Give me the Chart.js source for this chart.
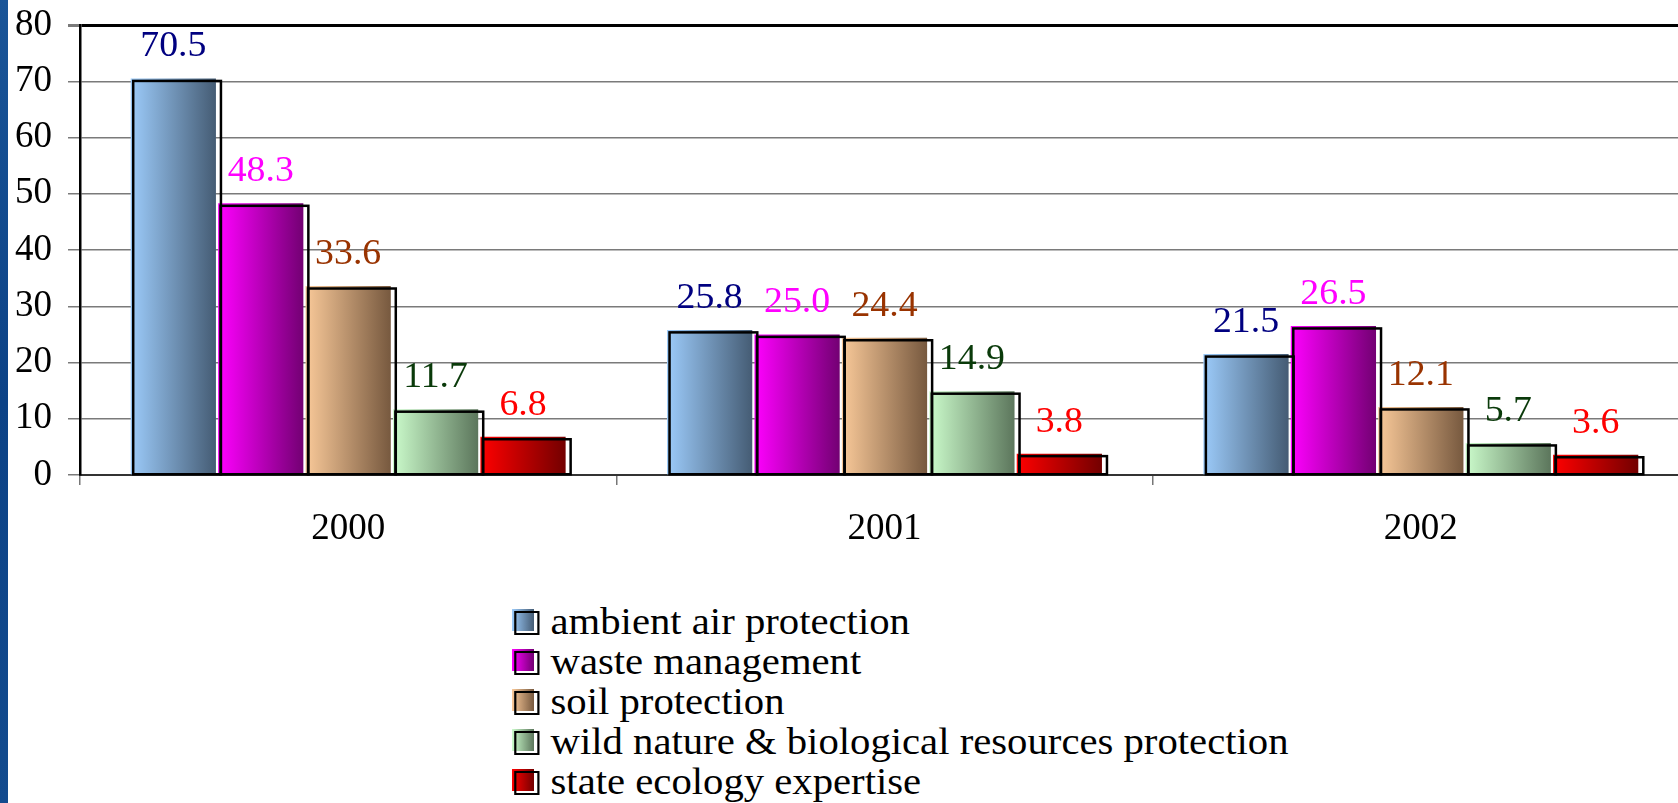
<!DOCTYPE html>
<html lang="en">
<head>
  <meta charset="UTF-8" />
  <title>Environmental protection expenditure</title>
  <script src="https://cdn.jsdelivr.net/npm/chart.js"></script>
  <style>
    body {
      margin: 0;
      padding: 0;
      background: #fff;
      overflow: hidden;
      width: 1678px;
      height: 803px;
      position: relative;
      font-family: "Liberation Serif", "Times New Roman", serif;
    }
    .strip {
      position: absolute;
      left: 0;
      top: 0;
      width: 8px;
      height: 803px;
      background: linear-gradient(#1a5598, #0c4286 50%, #134b8e);
    }
    #chart {
      position: absolute;
      left: 0;
      top: 0;
    }
    .legend {
      position: absolute;
      left: 512px;
      top: 602px;
      font-size: 37px;
      line-height: 40px;
      color: #000;
      transform: scaleX(1.1);
      transform-origin: left top;
    }
    .legend div {
      position: relative;
      padding-left: 35px;
      white-space: nowrap;
    }
    .legend .box {
      position: absolute;
      left: 0;
      top: 7px;
      width: 20px;
      height: 22px;
    }
    .legend .box::after {
      content: "";
      position: absolute;
      left: 2px;
      top: 2px;
      width: 19px;
      height: 20px;
      border: 2.5px solid #000;
    }
  </style>
</head>
<body>
  <div class="strip"></div>
  <canvas id="chart" width="1700" height="560"></canvas>
  <div class="legend" id="legend"></div>

  <script>
    const years = ["2000", "2001", "2002"];
    const seriesNames = [
      "ambient air protection",
      "waste management",
      "soil protection",
      "wild nature & biological resources protection",
      "state ecology expertise"
    ];
    const ambientAir = [70.5, 25.8, 21.5];
    const waste = [48.3, 25.0, 26.5];
    const soil = [33.6, 24.4, 12.1];
    const wildNature = [11.7, 14.9, 5.7];
    const stateEcology = [6.8, 3.8, 3.6];
    const yMin = 0, yMax = 80, yStep = 10;

    // light -> dark horizontal gradients, and label colours
    const gradients = [
      ["#9ccbfa", "#455c74"],
      ["#ff00ff", "#730073"],
      ["#f9c999", "#77593f"],
      ["#cbfbcb", "#5c765c"],
      ["#ff0000", "#730000"]
    ];
    const labelColors = ["#000080", "#ff00ff", "#993300", "#0a3a0a", "#ff0000"];

    const catPct = 0.815, barPct = 0.975;
    const serif = "'Liberation Serif', 'Times New Roman', serif";

    // legend list as html, one line per series
    const legend = document.getElementById("legend");
    seriesNames.forEach((name, i) => {
      const row = document.createElement("div");
      const box = document.createElement("span");
      box.className = "box";
      box.style.background = "linear-gradient(to right, " + gradients[i][0] + ", " + gradients[i][1] + ")";
      row.appendChild(box);
      row.appendChild(document.createTextNode(name));
      legend.appendChild(row);
    });

    function barFill(di) {
      return function (c) {
        const chart = c.chart;
        const xs = chart.scales.x;
        if (c.type !== "data" || !xs) return gradients[di][0];
        const n = chart.data.datasets.length;
        const center = xs.getPixelForValue(c.dataIndex);
        const catW = xs.width / chart.data.labels.length;
        if (!isFinite(center) || !isFinite(catW) || catW <= 0) return gradients[di][0];
        const groupW = catW * catPct;
        const slot = groupW / n;
        const mid = center - groupW / 2 + slot * (di + 0.5);
        const half = slot * barPct / 2;
        const g = chart.ctx.createLinearGradient(mid - half, 0, mid + half, 0);
        g.addColorStop(0, gradients[di][0]);
        g.addColorStop(1, gradients[di][1]);
        return g;
      };
    }

    const allSeries = [ambientAir, waste, soil, wildNature, stateEcology];
    const datasets = allSeries.map((vals, i) => ({
      label: seriesNames[i],
      data: vals,
      backgroundColor: barFill(i),
      borderWidth: 0,
      categoryPercentage: catPct,
      barPercentage: barPct
    }));

    // offset black outline on each bar + value labels above
    const barDecor = {
      id: "barDecor",
      afterDatasetsDraw(chart) {
        const ctx = chart.ctx;
        ctx.save();
        ctx.strokeStyle = "#000";
        ctx.lineWidth = 2.5;
        chart.data.datasets.forEach((ds, di) => {
          chart.getDatasetMeta(di).data.forEach(el => {
            const left = el.x - el.width / 2;
            ctx.strokeRect(left + 2.5, el.y + 2.5, el.width + 2.5, el.base - el.y - 2.5);
          });
        });
        ctx.font = "35px " + serif;
        ctx.textAlign = "center";
        ctx.textBaseline = "alphabetic";
        chart.data.datasets.forEach((ds, di) => {
          ctx.fillStyle = labelColors[di];
          chart.getDatasetMeta(di).data.forEach((el, i) => {
            ctx.save();
            ctx.translate(el.x, el.y - 22);
            ctx.scale(1.08, 1);
            ctx.fillText(ds.data[i].toFixed(1), 0, 0);
            ctx.restore();
          });
        });
        ctx.restore();
      }
    };

    new Chart(document.getElementById("chart"), {
      type: "bar",
      data: { labels: years, datasets: datasets },
      options: {
        responsive: false,
        animation: false,
        devicePixelRatio: 1,
        layout: { padding: { top: 25, right: 11, left: 0, bottom: 0 } },
        plugins: {
          legend: { display: false },
          tooltip: { enabled: false }
        },
        scales: {
          x: {
            offset: true,
            afterFit: s => { s.height = 85; s.paddingLeft = 0; s.paddingRight = 0; },
            border: { display: true, color: "#333", width: 2 },
            grid: {
              offset: true,
              drawOnChartArea: false,
              drawTicks: true,
              tickLength: 10,
              color: "#777",
              lineWidth: 1.5
            },
            ticks: {
              color: "#000",
              padding: 22,
              font: { family: serif, size: 37 }
            }
          },
          y: {
            min: yMin,
            max: yMax,
            afterFit: s => { s.width = 80; s.paddingTop = 0; s.paddingBottom = 0; },
            border: { display: true, color: "#000", width: 2.5 },
            grid: {
              color: c => (c.tick && c.tick.value === yMax ? "#000" : "#7a7a7a"),
              lineWidth: c => (c.tick && c.tick.value === yMax ? 3 : 1.5),
              tickLength: 12,
              tickColor: "#7a7a7a"
            },
            ticks: {
              stepSize: yStep,
              color: "#000",
              padding: 16,
              font: { family: serif, size: 37 }
            }
          }
        }
      },
      plugins: [barDecor]
    });
  </script>
</body>
</html>
